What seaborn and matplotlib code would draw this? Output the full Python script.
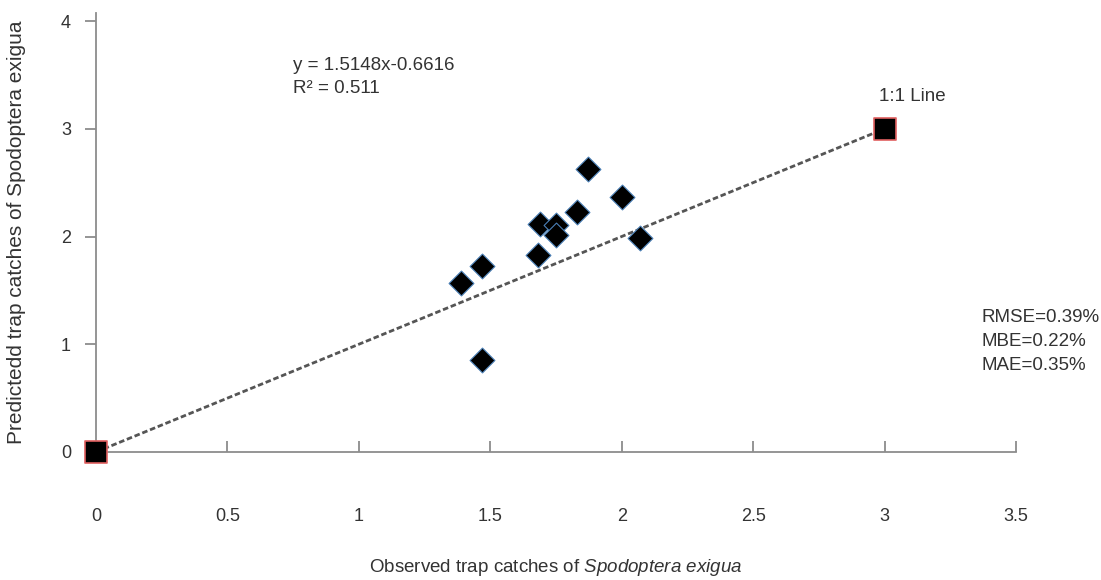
import numpy as np
import pandas as pd
import seaborn as sns
import matplotlib.pyplot as plt

observed = [1.39, 1.47, 1.47, 1.68, 1.69, 1.75, 1.75, 1.83, 1.87, 2.00, 2.07]
predicted = [1.57, 1.73, 0.85, 1.83, 2.12, 2.11, 2.01, 2.23, 2.63, 2.37, 1.99]
line_x = [0, 3]
line_y = [0, 3]
x_ticks = [0, 0.5, 1, 1.5, 2, 2.5, 3, 3.5]
y_ticks = [0, 1, 2, 3, 4]
stats = ['RMSE=0.39%', 'MBE=0.22%', 'MAE=0.35%']

df = pd.DataFrame({'obs': observed, 'pred': predicted})
ref = pd.DataFrame({'obs': line_x, 'pred': line_y})

sns.set_style('white')
plt.rcParams['font.family'] = ['Liberation Sans', 'DejaVu Sans']
plt.rcParams['mathtext.fontset'] = 'custom'
plt.rcParams['mathtext.rm'] = 'Liberation Sans'
plt.rcParams['mathtext.it'] = 'Liberation Sans:italic'

fig = plt.figure(figsize=(11.01, 5.8), dpi=100)
ax = fig.add_axes([0.0872, 0.2207, 0.8356, 0.757])

sns.lineplot(data=ref, x='obs', y='pred', ax=ax, color='#555555',
             linestyle=(0, (2, 1)), linewidth=2, zorder=2)
sns.scatterplot(data=ref, x='obs', y='pred', ax=ax, marker='s', s=260,
                color='black', edgecolor='#e06060', linewidth=1.2, zorder=4,
                clip_on=False)
sns.scatterplot(data=df, x='obs', y='pred', ax=ax, marker='D', s=160,
                color='black', edgecolor='#4a7fb5', linewidth=0.8, zorder=3)

ax.set_xlim(0, 3.5)
ax.set_ylim(0, 4.075)
ax.set_xticks(x_ticks)
ax.set_xticklabels([f'{t:g}' for t in x_ticks])
ax.set_yticks(y_ticks)

for s in ['top', 'right']:
    ax.spines[s].set_visible(False)
for s in ['left', 'bottom']:
    ax.spines[s].set_color('#8c8c8c')
    ax.spines[s].set_linewidth(1.3)

ax.tick_params(axis='x', bottom=True, direction='in', length=8, width=1.3,
               color='#8c8c8c', pad=40, labelsize=13, labelcolor='#333333')
ax.tick_params(axis='y', left=True, direction='out', length=8, width=1.3,
               color='#8c8c8c', pad=10, labelsize=13, labelcolor='#333333')

ax.set_xlabel('Observed trap catches of $\\mathit{Spodoptera\\ exigua}$',
              fontsize=13.5, color='#333333', va='center')
ax.xaxis.set_label_coords(0.5, -0.262)
ax.set_ylabel('Predictedd trap catches of Spodoptera exigua',
              fontsize=15, color='#333333', va='center')
ax.yaxis.set_label_coords(-0.0859, 0.5)

ax.text(0.749, 3.59, 'y = 1.5148x-0.6616', fontsize=13.5, color='#333333', va='center')
ax.text(0.749, 3.37, 'R² = 0.511', fontsize=13.5, color='#333333', va='center')
ax.text(2.98, 3.30, '1:1 Line', fontsize=13.5, color='#333333', va='center')
for i, t in enumerate(stats):
    ax.text(3.37, 1.244 - i * 0.222, t, fontsize=13.5, color='#333333', va='center',
            clip_on=False)

fig.savefig('out.png', dpi=100)
